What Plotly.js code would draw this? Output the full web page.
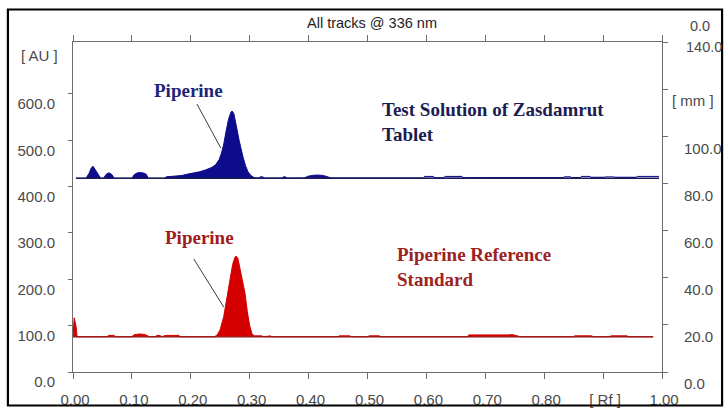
<!DOCTYPE html>
<html>
<head>
<meta charset="utf-8">
<script src="https://cdn.plot.ly/plotly-3.0.1.min.js"></script>
<style>
  html, body { margin: 0; padding: 0; background: #fff; }
  #chart { width: 724px; height: 409px; }
</style>
</head>
<body>
<div id="chart"></div>
<script>
// ---- Data (Rf vs AU) ----
const testRf = [0.005, 0.022, 0.027, 0.031, 0.034, 0.038, 0.043, 0.047, 0.052, 0.056, 0.061, 0.066, 0.070,
  0.100, 0.104, 0.110, 0.118, 0.124, 0.128, 0.156, 0.158, 0.170, 0.185, 0.195, 0.205, 0.215, 0.225, 0.235,
  0.242, 0.248, 0.252, 0.256, 0.260, 0.264, 0.268, 0.270, 0.273, 0.276, 0.279, 0.282, 0.285, 0.289, 0.293,
  0.297, 0.302, 0.308, 0.315, 0.318, 0.322, 0.326, 0.355, 0.357, 0.361, 0.363, 0.392, 0.398, 0.405, 0.415,
  0.425, 0.435, 0.440, 0.595, 0.597, 0.612, 0.615, 0.628, 0.632, 0.660, 0.664, 0.830, 0.834, 0.845, 0.848,
  0.860, 0.863, 0.878, 0.881, 0.900, 0.904, 0.918, 0.922, 0.955, 0.958, 0.995];
const testAU = [418, 418, 428, 440, 444, 436, 424, 418, 418, 426, 430, 426, 418,
  418, 426, 430, 430, 427, 418, 418, 421, 422, 424, 427, 429, 432, 436, 441,
  447, 458, 472, 492, 520, 545, 560, 563, 558, 542, 520, 500, 482, 462, 445,
  432, 424, 419, 418, 421, 421, 418, 418, 421, 421, 418, 418, 422, 424, 425,
  424, 421, 418, 418, 422, 422, 418, 418, 422, 422, 418, 418, 421, 421, 418,
  418, 422, 422, 418, 418, 421, 421, 418, 418, 422, 422, 418];

const refRf = [0.000, 0.002, 0.005, 0.007, 0.058, 0.060, 0.070, 0.072, 0.100, 0.103, 0.112, 0.122, 0.130,
  0.140, 0.142, 0.148, 0.150, 0.158, 0.180, 0.182, 0.240, 0.245, 0.250, 0.256, 0.262, 0.267, 0.271, 0.275,
  0.277, 0.280, 0.284, 0.288, 0.292, 0.296, 0.300, 0.304, 0.308, 0.320, 0.325, 0.335, 0.337, 0.450, 0.452,
  0.470, 0.473, 0.500, 0.503, 0.520, 0.523, 0.540, 0.670, 0.672, 0.700, 0.705, 0.740, 0.745, 0.760, 0.850,
  0.852, 0.880, 0.884, 0.910, 0.914, 0.940, 0.944, 0.970, 0.985];
const refAU = [76, 117, 100, 76, 76, 79, 79, 76, 76, 80, 82, 81, 76,
  76, 79, 79, 76, 79, 79, 76, 76, 80, 92, 120, 165, 205, 232, 248,
  250, 245, 222, 195, 170, 130, 100, 82, 78, 78, 76, 78, 76, 76, 78,
  78, 76, 76, 78, 78, 76, 76, 76, 80, 80, 79, 80, 81, 76, 76,
  78, 78, 76, 76, 78, 78, 76, 76, 76];

const testBaseRf = [0.005, 0.995];
const testBaseAU = [418, 418];
const refBaseRf = [0.000, 0.985];
const refBaseAU = [76, 76];

// Tick labels
const xTickVals = [0, 0.1, 0.2, 0.3, 0.4, 0.5, 0.6, 0.7, 0.8, 0.9, 1.0];
const xTickText = ['0.00', '0.10', '0.20', '0.30', '0.40', '0.50', '0.60', '0.70', '0.80', '[ Rf ]', '1.00'];
const yTickVals = [0, 100, 200, 300, 400, 500, 600];
const yTickText = ['0.0', '100.0', '200.0', '300.0', '400.0', '500.0', '600.0'];
const y2TickVals = [0, 20, 40, 60, 80, 100, 120, 140];
const y2TickText = ['0.0', '20.0', '40.0', '60.0', '80.0', '100.0', '', ''];

const BLUE = '#0c0c8c';
const RED = '#d40000';
const AXIS = '#6e6e6e';
const LABEL = '#4a4a4a';

const traces = [
  { x: testRf, y: testAU, type: 'scatter', mode: 'lines', fill: 'toself', fillcolor: BLUE,
    line: { color: BLUE, width: 1 }, hoverinfo: 'skip', showlegend: false },
  { x: testBaseRf, y: testBaseAU, type: 'scatter', mode: 'lines',
    line: { color: '#1a1a55', width: 1.3 }, hoverinfo: 'skip', showlegend: false },
  { x: refRf, y: refAU, type: 'scatter', mode: 'lines', fill: 'toself', fillcolor: RED,
    line: { color: RED, width: 1 }, hoverinfo: 'skip', showlegend: false },
  { x: refBaseRf, y: refBaseAU, type: 'scatter', mode: 'lines',
    line: { color: '#8a1212', width: 1.3 }, hoverinfo: 'skip', showlegend: false },
  { x: [], y: [], yaxis: 'y2', type: 'scatter', mode: 'lines', showlegend: false, hoverinfo: 'skip' }
];

const serif = 'Liberation Serif, Times New Roman, serif';
const sans = 'Liberation Sans, Arial, sans-serif';

const layout = {
  width: 724, height: 409,
  margin: { l: 73, r: 62, t: 42, b: 37, pad: 0 },
  paper_bgcolor: '#ffffff', plot_bgcolor: '#ffffff',
  showlegend: false,
  font: { family: sans, size: 15, color: LABEL },
  xaxis: {
    range: [0, 1], tickmode: 'array', tickvals: xTickVals, ticktext: xTickText,
    showline: true, linecolor: AXIS, linewidth: 1, mirror: 'ticks',
    ticks: 'outside', ticklen: 6, tickcolor: AXIS, tickwidth: 1,
    showgrid: false, zeroline: false,
    ticklabelstandoff: 8, ticklabelshift: 2,
    tickfont: { family: sans, size: 15, color: LABEL }
  },
  yaxis: {
    range: [0, 712], tickmode: 'array', tickvals: yTickVals, ticktext: yTickText,
    showline: true, linecolor: AXIS, linewidth: 1,
    ticks: 'outside', ticklen: 4, tickcolor: AXIS,
    showgrid: false, zeroline: false,
    ticklabelstandoff: 10, ticklabelshift: 10,
    tickfont: { family: sans, size: 15, color: LABEL }
  },
  yaxis2: {
    range: [0, 140], overlaying: 'y', side: 'right',
    tickmode: 'array', tickvals: y2TickVals, ticktext: y2TickText,
    showline: true, linecolor: AXIS, linewidth: 1,
    ticks: 'outside', ticklen: 5, tickcolor: AXIS,
    showgrid: false, zeroline: false,
    ticklabelstandoff: 13, ticklabelshift: 12,
    tickfont: { family: sans, size: 15, color: LABEL }
  },
  shapes: [
    // outer frame
    { type: 'rect', xref: 'paper', yref: 'paper', x0: -0.1105, x1: 1.1020, y0: -0.1015, y1: 1.0985,
      line: { color: '#000000', width: 2.2 }, fillcolor: 'rgba(0,0,0,0)', layer: 'above' },
    // leader lines
    { type: 'line', xref: 'x', yref: 'y', x0: 0.2105, y0: 578, x1: 0.251, y1: 483,
      line: { color: '#3a3a3a', width: 1 } },
    { type: 'line', xref: 'x', yref: 'y', x0: 0.205, y0: 244, x1: 0.256, y1: 140,
      line: { color: '#3a3a3a', width: 1 } }
  ],
  annotations: [
    { text: 'All tracks @ 336 nm', xref: 'paper', yref: 'paper', x: 0.508, y: 1.058,
      xanchor: 'center', yanchor: 'middle', showarrow: false,
      font: { family: sans, size: 14.5, color: '#222222' } },
    { text: '[ AU ]', xref: 'paper', yref: 'paper', x: -0.022, y: 0.958,
      xanchor: 'right', yanchor: 'middle', showarrow: false,
      font: { family: sans, size: 15, color: LABEL } },
    { text: '[ mm ]', xref: 'paper', yref: 'paper', x: 1.0136, y: 0.824,
      xanchor: 'left', yanchor: 'middle', showarrow: false,
      font: { family: sans, size: 15, color: LABEL } },
    { text: '140.0', xref: 'paper', yref: 'paper', x: 1.038, y: 0.985,
      xanchor: 'left', yanchor: 'middle', showarrow: false,
      font: { family: sans, size: 14.5, color: LABEL } },
    { text: '0.0', xref: 'paper', yref: 'paper', x: 1.064, y: 1.048,
      xanchor: 'center', yanchor: 'middle', showarrow: false,
      font: { family: sans, size: 14.5, color: LABEL } },
    { text: '<b>Piperine</b>', xref: 'x', yref: 'y', x: 0.196, y: 608,
      xanchor: 'center', yanchor: 'middle', showarrow: false,
      font: { family: serif, size: 19, color: '#1f2678' } },
    { text: '<b>Test Solution of Zasdamrut<br>Tablet</b>', xref: 'x', yref: 'y', x: 0.521, y: 540,
      xanchor: 'left', yanchor: 'middle', align: 'left', showarrow: false,
      font: { family: serif, size: 19, color: '#1c1c52' } },
    { text: '<b>Piperine</b>', xref: 'x', yref: 'y', x: 0.214, y: 291,
      xanchor: 'center', yanchor: 'middle', showarrow: false,
      font: { family: serif, size: 19, color: '#a01c1c' } },
    { text: '<b>Piperine Reference<br>Standard</b>', xref: 'x', yref: 'y', x: 0.547, y: 226,
      xanchor: 'left', yanchor: 'middle', align: 'left', showarrow: false,
      font: { family: serif, size: 19, color: '#9b2323' } }
  ]
};

Plotly.newPlot('chart', traces, layout, { displayModeBar: false, staticPlot: true });
</script>
</body>
</html>
